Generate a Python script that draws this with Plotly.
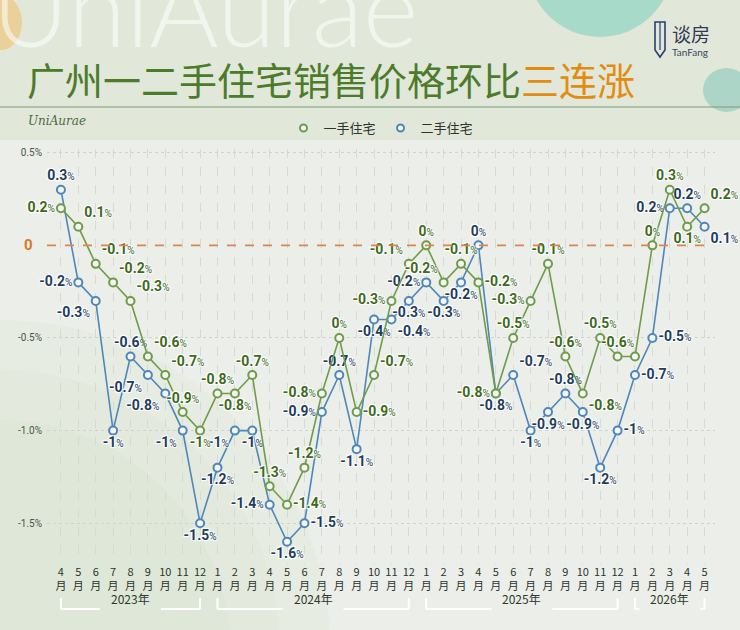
import plotly.graph_objects as go

# ---------------- data ----------------
months = ["4", "5", "6", "7", "8", "9", "10", "11", "12",
          "1", "2", "3", "4", "5", "6", "7", "8", "9", "10", "11", "12",
          "1", "2", "3", "4", "5", "6", "7", "8", "9", "10", "11", "12",
          "1", "2", "3", "4", "5"]
years = ["2023"] * 9 + ["2024"] * 12 + ["2025"] * 12 + ["2026"] * 5

new_home = [0.2, 0.1, -0.1, -0.2, -0.3, -0.6, -0.7, -0.9, -1.0,
            -0.8, -0.8, -0.7, -1.3, -1.4, -1.2, -0.8, -0.5, -0.9, -0.7, -0.3, -0.1,
            0.0, -0.2, -0.1, -0.2, -0.8, -0.5, -0.3, -0.1, -0.6, -0.8, -0.5, -0.6,
            -0.6, 0.0, 0.3, 0.1, 0.2]
second_home = [0.3, -0.2, -0.3, -1.0, -0.6, -0.7, -0.8, -1.0, -1.5,
               -1.2, -1.0, -1.0, -1.4, -1.6, -1.5, -0.9, -0.7, -1.1, -0.4, -0.4, -0.3,
               -0.2, -0.3, -0.2, 0.0, -0.8, -0.7, -1.0, -0.9, -0.8, -0.9, -1.2, -1.0,
               -0.7, -0.5, 0.2, 0.2, 0.1]
# label texts as printed in the picture ("" = no label printed)
new_home_label_override = {16: "0", 33: ""}

series_names = ["一手住宅", "二手住宅"]
title_main = "广州一二手住宅销售价格环比"
title_hi = "三连涨"
ytick_vals = [0.5, -0.5, -1.0, -1.5]
ytick_text = ["0.5%", "-0.5%", "-1.0%", "-1.5%"]

# ---------------- styles ----------------
W, H = 740, 630
ML, MR, MT, MB = 47, 25, 149, 66
PW, PH = W - ML - MR, H - MT - MB

def px_x(p):
    return (p - ML) / PW

def px_y(p):
    return (H - MB - p) / PH

G_LINE, G_TEXT = "#6f9c4a", "#3b6a20"
B_LINE, B_TEXT = "#4f87ba", "#1d3d5e"

g_pos = ["middle left", "top right", "top right", "top right", "top right", "top right",
         "top right", "top center", "bottom center",
         "top center", "bottom center", "top center", "top center", "middle right",
         "top center", "middle left", "top center", "middle right", "top right",
         "middle left", "top left",
         "top center", "top left", "top center", "middle right", "middle left",
         "top center", "middle left", "top center", "top center", "bottom right",
         "top center", "top center",
         "top center", "top center", "top center", "bottom center", "top right"]
b_pos = ["top center", "middle left", "bottom left", "bottom center", "top center",
         "bottom left", "bottom left", "bottom left", "bottom center",
         "bottom center", "bottom left", "bottom center", "middle left", "bottom center",
         "middle right", "middle left", "top center", "bottom center", "bottom center",
         "bottom right", "bottom center",
         "middle left", "bottom center", "bottom center", "top center", "bottom center",
         "top right", "bottom center", "bottom center", "top center", "bottom center",
         "bottom center", "middle right",
         "middle right", "middle right", "middle left", "top center", "bottom right"]


def fmt(v):
    s = ("%.1f" % v).rstrip("0").rstrip(".")
    if s in ("-0", ""):
        s = "0"
    return s


def label(s):
    if s == "":
        return ""
    return "<b>%s</b><span style='font-size:10px'>%%</span>" % s


x = list(range(len(months)))
g_text = [label(new_home_label_override.get(i, fmt(v))) for i, v in enumerate(new_home)]
b_text = [label(fmt(v)) for v in second_home]

shadow = "1px 1px 1px #fff, -1px -1px 1px #fff, 1px -1px 1px #fff, -1px 1px 1px #fff"
LABEL_FONT = "Roboto, Noto Sans, sans-serif"

fig = go.Figure()

fig.add_trace(go.Scatter(
    x=x, y=second_home, mode="lines+markers+text", name=series_names[1],
    showlegend=False, cliponaxis=False,
    line=dict(color=B_LINE, width=1.6),
    marker=dict(size=8, color="#f4f6f3", line=dict(color=B_LINE, width=2)),
    text=b_text, textposition=b_pos,
    textfont=dict(family=LABEL_FONT, size=14, color=B_TEXT, shadow=shadow),
    hoverinfo="skip"))
fig.add_trace(go.Scatter(
    x=x, y=new_home, mode="lines+markers+text", name=series_names[0],
    showlegend=False, cliponaxis=False,
    line=dict(color=G_LINE, width=1.6),
    marker=dict(size=8, color="#f4f6f3", line=dict(color=G_LINE, width=2)),
    text=g_text, textposition=g_pos,
    textfont=dict(family=LABEL_FONT, size=14, color=G_TEXT, shadow=shadow),
    hoverinfo="skip"))

# legend-only traces (marker only)
for nm, col in [(series_names[0], G_LINE), (series_names[1], B_LINE)]:
    fig.add_trace(go.Scatter(x=[None], y=[None], mode="markers", name=nm,
                             marker=dict(size=7, color="#f4f6f3", line=dict(color=col, width=2))))

shapes = []
# background decorations
shapes.append(dict(type="rect", xref="paper", yref="paper", x0=px_x(0), x1=px_x(W),
                   y0=px_y(0), y1=px_y(140), fillcolor="rgba(205,222,190,0.35)",
                   line=dict(width=0), layer="below"))
for k, (r, a) in enumerate([(330, 0.12), (280, 0.12), (230, 0.12)]):
    shapes.append(dict(type="circle", xref="paper", yref="paper",
                       x0=px_x(0 - r), x1=px_x(0 + r), y0=px_y(650 - r), y1=px_y(650 + r),
                       fillcolor="rgba(195,218,178,%.2f)" % a,
                       line=dict(width=0), layer="below"))
shapes.append(dict(type="circle", xref="paper", yref="paper", x0=px_x(527), x1=px_x(673),
                   y0=px_y(-110), y1=px_y(37), fillcolor="rgba(120,205,185,0.55)",
                   line=dict(width=0), layer="below"))
shapes.append(dict(type="circle", xref="paper", yref="paper", x0=px_x(703), x1=px_x(750),
                   y0=px_y(68), y1=px_y(112), fillcolor="rgba(110,190,175,0.45)",
                   line=dict(width=0), layer="below"))
shapes.append(dict(type="circle", xref="paper", yref="paper", x0=px_x(-20), x1=px_x(22),
                   y0=px_y(-5), y1=px_y(50), fillcolor="rgba(240,190,100,0.55)",
                   line=dict(width=0), layer="below"))
# title underline
shapes.append(dict(type="line", xref="paper", yref="paper", x0=px_x(0), x1=px_x(W),
                   y0=px_y(107), y1=px_y(107), line=dict(color="#7f9a78", width=1)))
# zero line
shapes.append(dict(type="line", xref="x", yref="y", x0=-0.8, x1=len(months) - 1,
                   y0=0, y1=0, line=dict(color="#d9874a", width=1.6, dash="dash")))
# logo pencil icon
shapes.append(dict(type="path", xref="paper", yref="paper",
                   path="M %f,%f L %f,%f L %f,%f L %f,%f L %f,%f Z" % (
                       px_x(655), px_y(22), px_x(665), px_y(22), px_x(665), px_y(50),
                       px_x(660), px_y(57), px_x(655), px_y(50)),
                   line=dict(color="#2b3f73", width=1.6), fillcolor="rgba(0,0,0,0)"))
shapes.append(dict(type="line", xref="paper", yref="paper", x0=px_x(660), x1=px_x(660),
                   y0=px_y(22), y1=px_y(50), line=dict(color="#2b3f73", width=1.2)))

annotations = []
# year brackets
y_br_top, y_br = px_y(598), px_y(609)
groups = []
for i, yv in enumerate(years):
    if not groups or groups[-1][0] != yv:
        groups.append([yv, i, i])
    else:
        groups[-1][2] = i
for yv, a, b in groups:
    c = (a + b) / 2
    gap = 1.75
    br = dict(color="#ffffff", width=2)
    shapes += [
        dict(type="line", xref="x", yref="paper", x0=a, x1=a, y0=y_br_top, y1=y_br, line=br),
        dict(type="line", xref="x", yref="paper", x0=b, x1=b, y0=y_br_top, y1=y_br, line=br),
        dict(type="line", xref="x", yref="paper", x0=a, x1=max(a, c - gap), y0=y_br, y1=y_br, line=br),
        dict(type="line", xref="x", yref="paper", x0=min(b, c + gap), x1=b, y0=y_br, y1=y_br, line=br),
    ]
    annotations.append(dict(x=c, y=y_br, xref="x", yref="paper", text=yv + "年",
                            showarrow=False, font=dict(size=12, color="#2c3a2c",
                                                       family="Noto Sans CJK SC")))

# watermark
annotations.append(dict(x=px_x(-10), y=px_y(72), xref="paper", yref="paper", text="UniAurae",
                        xanchor="left", yanchor="bottom", showarrow=False,
                        font=dict(size=106, color="rgba(255,255,255,0.55)", family="Lato",
                                  weight=300)))
# title
annotations.append(dict(x=px_x(25), y=px_y(79), xref="paper", yref="paper",
                        text="%s<span style='color:#e38c12'>%s</span>" % (title_main, title_hi),
                        xanchor="left", yanchor="middle", showarrow=False,
                        font=dict(size=38, color="#4c7b2b", family="Noto Sans CJK SC")))
# signature
annotations.append(dict(x=px_x(26), y=px_y(121), xref="paper", yref="paper",
                        text="<i>UniAurae</i>", xanchor="left", yanchor="middle", showarrow=False,
                        font=dict(size=12, color="#4d6b3e", family="DejaVu Serif")))
# logo text
annotations.append(dict(x=px_x(670), y=px_y(33), xref="paper", yref="paper", text="谈房",
                        xanchor="left", yanchor="middle", showarrow=False,
                        font=dict(size=19, color="#2f3a55", family="Noto Sans CJK SC")))
annotations.append(dict(x=px_x(670), y=px_y(52), xref="paper", yref="paper", text="TanFang",
                        xanchor="left", yanchor="middle", showarrow=False,
                        font=dict(size=10, color="#3a4560", family="Lato")))
# zero tick label
annotations.append(dict(x=0, y=0, xref="paper", yref="y", text="<b>0</b>", xanchor="right",
                        xshift=-12, yanchor="middle", showarrow=False,
                        font=dict(size=15, color="#d9782a", family="Roboto")))

fig.update_layout(
    width=W, height=H,
    margin=dict(l=ML, r=MR, t=MT, b=MB, autoexpand=False),
    paper_bgcolor="#eceeea", plot_bgcolor="rgba(0,0,0,0)",
    shapes=shapes, annotations=annotations,
    legend=dict(orientation="h", x=0.5, xanchor="center", y=px_y(128), yanchor="middle",
                font=dict(size=13, color="#2e3330", family="Noto Sans CJK SC"),
                bgcolor="rgba(0,0,0,0)"),
    xaxis=dict(range=[-0.8, len(months) - 0.4], tickmode="array", tickvals=x,
               ticktext=["%s<br>月" % m for m in months], showgrid=True,
               gridcolor="#d6dad5", griddash="dash", gridwidth=1, zeroline=False,
               showline=False, ticks="", tickangle=0,
               tickfont=dict(size=11, color="#2a352a", family="Noto Sans CJK SC")),
    yaxis=dict(range=[-1.72, 0.52], tickmode="array", tickvals=ytick_vals,
               ticktext=ytick_text, showgrid=True, gridcolor="#cfd3ce", griddash="dot",
               zeroline=False, showline=False, ticks="", ticklabelstandoff=4,
               tickfont=dict(size=10, color="#4a5648", family="Roboto")),
    showlegend=True,
)

fig.write_html("out.html", config={"displayModeBar": False},
               post_script="document.body.style.margin='0';document.body.style.padding='0';"
                           "document.body.style.overflow='hidden';")
